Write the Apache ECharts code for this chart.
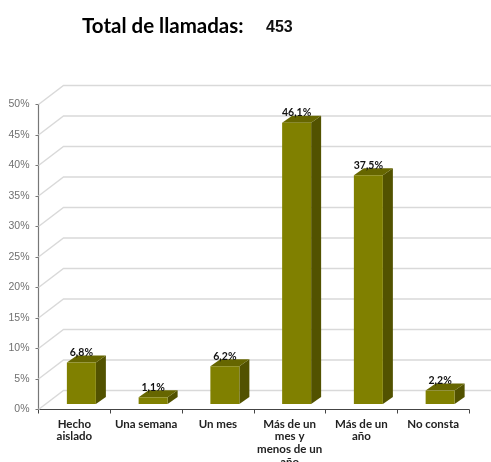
<!DOCTYPE html>
<html><head><meta charset="utf-8">
<style>html,body{margin:0;padding:0;background:#fff}#c{width:491px;height:462px}</style>
<script src="https://cdn.jsdelivr.net/npm/echarts@6/dist/echarts.min.js"></script>
</head><body><div id="c"></div>
<script>
const categories = ['Hecho\naislado','Una semana','Un mes','Más de un\nmes y\nmenos de un\naño','Más de un\naño','No consta'];
const values = [6.8,1.1,6.2,46.1,37.5,2.2];
const valueLabels = ['6,8%','1,1%','6,2%','46,1%','37,5%','2,2%'];
const yTicks = [0,5,10,15,20,25,30,35,40,45,50];
const titleText = 'Total de llamadas:';
const totalText = '453';

const DX = 25, DY = 19;           // wall depth
const BX = 10, BY = 7;            // bar depth
const BAR_W = 29, BASE_UP = 5.5, SHIFT = 7;
const WALL_RIGHT = 491;
const chart = echarts.init(document.getElementById('c'), null, {renderer:'canvas'});
chart.setOption({
  animation:false,
  backgroundColor:'#fff',
  title:[
    {text:titleText,left:82,top:16,padding:0,textStyle:{fontFamily:'Lato',fontWeight:'bold',fontSize:20.5,color:'#000'}},
    {text:totalText,left:266,top:20,padding:0,textStyle:{fontFamily:'Liberation Sans',fontWeight:'bold',fontSize:16,color:'#111'}}
  ],
  grid:{left:38.5,top:104.5,width:430.5,height:305,containLabel:false,outerBoundsMode:'none'},
  xAxis:{type:'category',data:categories,
    axisLine:{lineStyle:{color:'#444',width:1.2}},
    axisTick:{show:true,alignWithLabel:false,length:4,lineStyle:{color:'#444'}},
    axisLabel:{interval:0,margin:8,fontFamily:'Lato',fontWeight:'bold',fontSize:11.5,lineHeight:12.7,color:'#222',verticalAlign:'top',hideOverlap:false}},
  yAxis:{type:'value',min:0,max:50,interval:5,
    axisLine:{show:true,lineStyle:{color:'#777',width:1.2}},
    axisTick:{show:true,length:3,lineStyle:{color:'#777'}},
    splitLine:{show:false},
    axisLabel:{formatter:'{value}%',margin:9,fontFamily:'Liberation Sans',fontSize:10.5,color:'#707070'}},
  series:[
    {type:'custom',coordinateSystem:'cartesian2d',z:1,silent:true,clip:false,
     data:yTicks.map(t=>[0,t]),
     renderItem(p,api){
       const y=api.coord([0,api.value(1)])[1];
       const x0=p.coordSys.x;
       return {type:'polyline',shape:{points:[[x0,y],[x0+DX,y-DY],[WALL_RIGHT,y-DY]]},
         style:{fill:null,stroke:'#d9d9d9',lineWidth:1.4}};
     }},
    {type:'custom',coordinateSystem:'cartesian2d',z:3,silent:true,clip:false,
     data:values.map((v,i)=>[i,v]),
     renderItem(p,api){
       const i=api.value(0);
       const c=api.coord([i,0]), t=api.coord([i,api.value(1)]);
       const xl=c[0]+SHIFT-BAR_W/2, xr=xl+BAR_W, yb=c[1]-BASE_UP, yt=t[1]-BASE_UP;
       return {type:'group',children:[
         {type:'polygon',shape:{points:[[xr,yt],[xr+BX,yt-BY],[xr+BX,yb-BY],[xr,yb]]},style:{fill:'#525200'}},
         {type:'polygon',shape:{points:[[xl,yt],[xl+BX,yt-BY],[xr+BX,yt-BY],[xr,yt]]},style:{fill:'#666600'}},
         {type:'rect',shape:{x:xl,y:yt,width:BAR_W,height:yb-yt},style:{fill:'#808000'}},
         {type:'text',style:{text:valueLabels[i],x:(xl+xr)/2,y:yt-10,align:'center',verticalAlign:'middle',
           fontFamily:'Lato',fontWeight:'bold',fontSize:10.5,fill:'#111'}}
       ]};
     }}
  ]
});
</script></body></html>
